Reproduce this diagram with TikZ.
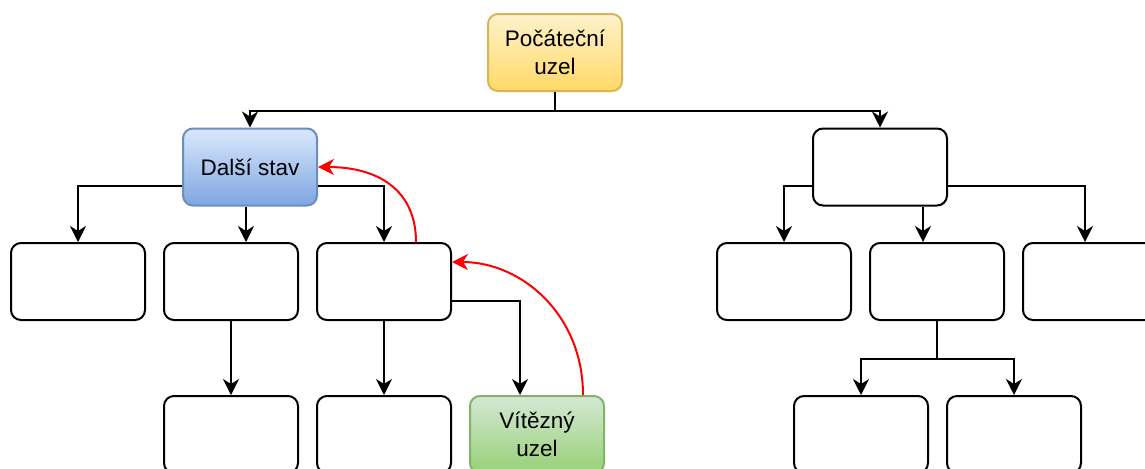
\documentclass[tikz,border=0pt]{standalone}
\usepackage{xcolor}
\usepackage{fontspec}
\setmainfont{Liberation Sans}
\usepackage{tikz}
\usetikzlibrary{arrows.meta, positioning}

\definecolor{startfill}{HTML}{FFF2CC}
\definecolor{startfill2}{HTML}{FFD966}
\definecolor{startline}{HTML}{D6B656}
\definecolor{nextfill}{HTML}{DAE8FC}
\definecolor{nextfill2}{HTML}{7EA6E0}
\definecolor{nextline}{HTML}{6C8EBF}
\definecolor{winfill}{HTML}{D5E8D4}
\definecolor{winfill2}{HTML}{97D077}
\definecolor{winline}{HTML}{82B366}

\begin{document}
\begin{tikzpicture}[x=0.5pt, y=-0.5pt, node distance=76.5pt,
    box/.style={rectangle, rounded corners=5pt, draw, line width=1pt,
        minimum width=67pt, minimum height=38.5pt, inner sep=0pt,
        align=center, font=\fontsize{11.25}{14}\selectfont},
    edge/.style={-{Stealth[length=8pt, width=8pt, inset=2.5pt]}, line width=1pt},
    back/.style={-{Stealth[length=8pt, width=8pt, inset=2.5pt]}, line width=1pt, red}]
    \useasboundingbox (0,0) rectangle (1145,468);

    \node (start) [box, draw=startline, top color=startfill, bottom color=startfill2] at (555,52.5) {Počáteční\\uzel};
    \node (next) [box, draw=nextline, top color=nextfill, bottom color=nextfill2] at (250,167) {Další stav};
    \node (branch) [box] at (880,167) {};

    % levy podstrom
    \node (l2) [box] at (231,281.5) {};
    \node (l1) [box, left of=l2] {};
    \node (l3) [box, right of=l2] {};
    \node (l2c) [box, below of=l2] {};
    \node (l3a) [box, below of=l3] {};
    \node (win) [box, right of=l3a, draw=winline, top color=winfill, bottom color=winfill2] {Vítězný\\uzel};

    % pravy podstrom
    \node (r2) [box] at (937,281.5) {};
    \node (r1) [box, left of=r2] {};
    \node (r3) [box, right of=r2] {};
    \node (r2a) [box] at (861,434.5) {};
    \node (r2b) [box, right of=r2a] {};

    \draw [line width=1pt] (start.south) -- ++(0,19) coordinate (split);
    \draw [edge] (split) -| (next.north);
    \draw [edge] (split) -| (branch.north);

    \draw [edge] ([yshift=-9.5pt]next.west) -| (l1.north);
    \draw [edge] ([xshift=-2pt]next.south) -- ([xshift=7.5pt]l2.north);
    \draw [edge] ([yshift=-9.5pt]next.east) -| (l3.north);
    \draw [edge] (l2) -- (l2c);
    \draw [edge] (l3) -- (l3a);
    \draw [edge] ([yshift=-9.75pt]l3.east) -| ([xshift=-8.5pt]win.north);

    \draw [edge] ([yshift=-9.5pt]branch.west) -| (r1.north);
    \draw [edge] ([xshift=21.5pt]branch.south) -- ([xshift=-7pt]r2.north);
    \draw [edge] ([yshift=-9.5pt]branch.east) -| ([xshift=-2.5pt]r3.north);
    \draw [line width=1pt] (r2.south) -- ++(0,38) coordinate (fork);
    \draw [edge] (fork) -| (r2a.north);
    \draw [edge] (fork) -| (r2b.north);

    % zpetne sireni
    \draw [back] ([xshift=23pt]win.north) .. controls +(0,-80) and +(70,0) .. ([yshift=9.75pt]l3.east);
    \draw [back] ([xshift=16pt]l3.north) .. controls +(0,-52) and +(60,0) .. (next.east);
\end{tikzpicture}
\end{document}
